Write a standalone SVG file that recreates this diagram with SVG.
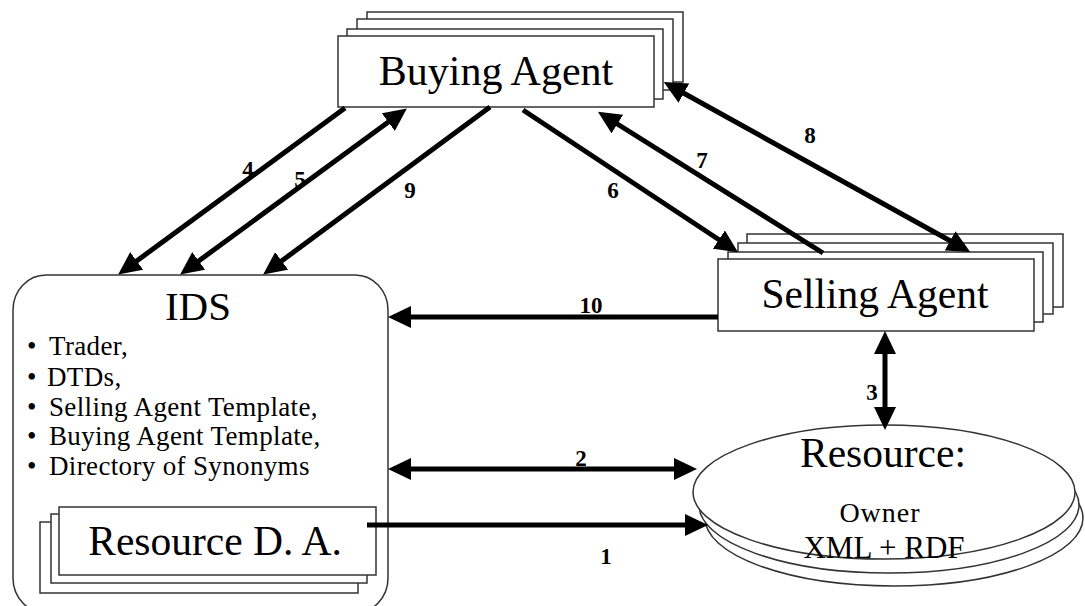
<svg xmlns="http://www.w3.org/2000/svg" width="1085" height="606" viewBox="0 0 1085 606">
<style>
.box{fill:#fff;stroke:#333;stroke-width:1.5}
.con{stroke:#000;stroke-width:5;fill:none}
</style>
<defs>
<marker id="ah" markerUnits="userSpaceOnUse" markerWidth="24" markerHeight="22" viewBox="0 0 24 22" refX="17" refY="11" orient="auto-start-reverse">
<path d="M0,0 L23,11 L0,22 z" fill="#000"/>
</marker>
</defs>
<rect width="1085" height="606" fill="#fff"/>

<g id="ids">
<rect class="box" x="13" y="275" width="375" height="338" rx="33" ry="35"/>
<text font-family="Liberation Serif" font-size="41" text-anchor="middle" x="198" y="320">IDS</text>
<g font-family="Liberation Serif" font-size="27" letter-spacing="0.35">
<text y="355"><tspan x="27">•</tspan><tspan x="49">Trader,</tspan></text>
<text y="386"><tspan x="27">•</tspan><tspan x="47">DTDs,</tspan></text>
<text y="416"><tspan x="27">•</tspan><tspan x="49">Selling Agent Template,</tspan></text>
<text y="445"><tspan x="27">•</tspan><tspan x="49">Buying Agent Template,</tspan></text>
<text y="475"><tspan x="27">•</tspan><tspan x="49">Directory of Synonyms</tspan></text>
</g>
</g>

<g id="resource-da">
<rect class="box" x="40" y="522" width="318" height="71"/>
<rect class="box" x="51" y="514" width="316" height="69"/>
<rect class="box" x="59" y="507" width="317" height="68"/>
<text font-family="Liberation Serif" font-size="41.5" text-anchor="middle" x="215" y="555">Resource D. A.</text>
</g>

<g id="buying-agent">
<rect class="box" x="367" y="12" width="316" height="70"/>
<rect class="box" x="357" y="19" width="316" height="71"/>
<rect class="box" x="347" y="29" width="316" height="70"/>
<rect class="box" x="338" y="36" width="316" height="71"/>
<text font-family="Liberation Serif" font-size="42" text-anchor="middle" x="496" y="85">Buying Agent</text>
</g>

<g id="selling-agent">
<rect class="box" x="747" y="234" width="316" height="73"/>
<rect class="box" x="738" y="243" width="315" height="71"/>
<rect class="box" x="728" y="252" width="315" height="70"/>
<rect class="box" x="718" y="259" width="316" height="72"/>
<text font-family="Liberation Serif" font-size="41.5" text-anchor="middle" x="875" y="308">Selling Agent</text>
</g>

<g id="resource">
<ellipse class="box" cx="894" cy="518" rx="189" ry="68"/>
<ellipse class="box" cx="889" cy="505" rx="190" ry="68"/>
<ellipse class="box" cx="884" cy="492" rx="191" ry="67"/>
<text font-family="Liberation Serif" font-size="41.5" text-anchor="middle" x="883" y="467">Resource:</text>
<text font-family="Liberation Serif" font-size="28" text-anchor="middle" letter-spacing="1" x="880" y="522">Owner</text>
<text font-family="Liberation Serif" font-size="31" text-anchor="middle" x="884" y="558">XML + RDF</text>
</g>

<g id="connectors">
<line class="con" x1="345" y1="108" x2="123" y2="271" marker-end="url(#ah)"/>
<line class="con" x1="185" y1="271" x2="402" y2="112" marker-start="url(#ah)" marker-end="url(#ah)"/>
<line class="con" x1="490" y1="107" x2="268" y2="271" marker-end="url(#ah)"/>
<line class="con" x1="523" y1="110" x2="733" y2="249" marker-end="url(#ah)"/>
<line class="con" x1="823" y1="253" x2="603" y2="115" marker-end="url(#ah)"/>
<line class="con" x1="669" y1="85" x2="965" y2="249" marker-start="url(#ah)" marker-end="url(#ah)"/>
<line class="con" x1="718" y1="317" x2="394" y2="317" marker-end="url(#ah)"/>
<line class="con" x1="885" y1="337" x2="885" y2="424" marker-start="url(#ah)" marker-end="url(#ah)"/>
<line class="con" x1="394" y1="469" x2="691" y2="469" marker-start="url(#ah)" marker-end="url(#ah)"/>
<line class="con" x1="367" y1="525" x2="702" y2="525" marker-end="url(#ah)"/>
<g font-family="Liberation Serif" font-size="23" font-weight="bold" text-anchor="middle">
<text x="248" y="177">4</text>
<text x="300" y="187">5</text>
<text x="410" y="198">9</text>
<text x="613" y="198">6</text>
<text x="702" y="168">7</text>
<text x="810" y="143">8</text>
<text x="872" y="400">3</text>
<text x="591" y="313">10</text>
<text x="581" y="466">2</text>
<text x="606" y="564">1</text>
</g>
</g>
</svg>
